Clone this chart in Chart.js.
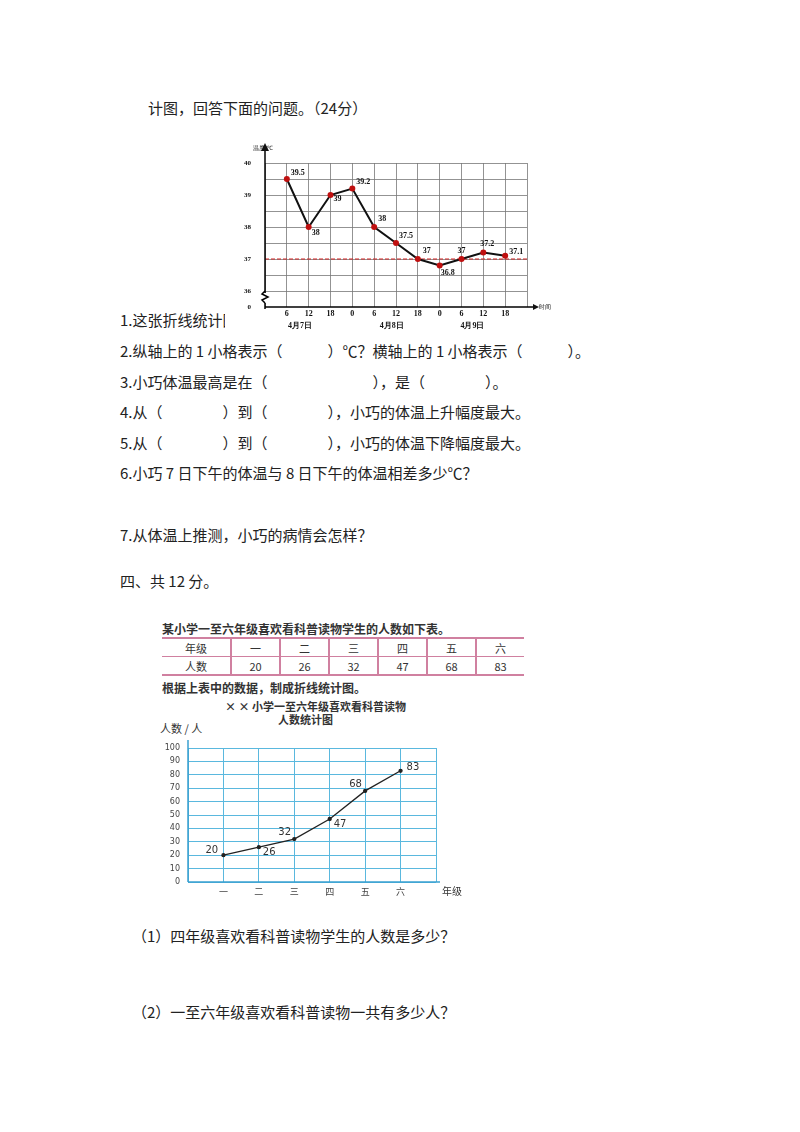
<!DOCTYPE html>
<html><head><meta charset="utf-8">
<script src="https://cdn.jsdelivr.net/npm/chart.js@4.4.0/dist/chart.umd.min.js"></script>
<style>
body{margin:0;width:800px;height:1132px;background:#fff;position:relative;font-family:"Noto Sans CJK SC","Noto Sans",sans-serif;color:#222;overflow:hidden}
.t{position:absolute;font-size:15px;white-space:nowrap;line-height:20px}
.s{position:absolute;font-size:12px;white-space:nowrap;font-weight:bold;color:#333;line-height:13px}
canvas{position:absolute}
table{position:absolute;left:162px;top:637px;border-collapse:collapse;font-size:11px;color:#333}
td{border:1px solid #d080a0;border-left:2px solid #d080a0;height:17px;text-align:center;width:47px;padding:0}
td:first-child{width:68px;border-left:none}
tr:first-child td{border-top:2px solid #d080a0}
tr:last-child td{border-bottom:2px solid #d080a0}
td:last-child{border-right:none}
</style></head><body>
<div class="t" style="left:148px;top:98px">计图，回答下面的问题。（24分）</div>
<div class="t" style="left:120px;top:310px">1.这张折线统计图</div>
<div class="t" style="left:120px;top:341px">2.纵轴上的 1 小格表示（　　　）℃？横轴上的 1 小格表示（　　　）。</div>
<div class="t" style="left:120px;top:372px">3.小巧体温最高是在（　　　　　　　），是（　　　　）。</div>
<div class="t" style="left:120px;top:402px">4.从（　　　　）到（　　　　），小巧的体温上升幅度最大。</div>
<div class="t" style="left:120px;top:433px">5.从（　　　　）到（　　　　），小巧的体温下降幅度最大。</div>
<div class="t" style="left:120px;top:463px">6.小巧 7 日下午的体温与 8 日下午的体温相差多少℃？</div>
<div class="t" style="left:120px;top:525px">7.从体温上推测，小巧的病情会怎样？</div>
<div class="t" style="left:120px;top:571px">四、共 12 分。</div>
<div class="s" style="left:162px;top:622px">某小学一至六年级喜欢看科普读物学生的人数如下表。</div>
<table>
<tr><td>年级</td><td>一</td><td>二</td><td>三</td><td>四</td><td>五</td><td>六</td></tr>
<tr><td>人数</td><td>20</td><td>26</td><td>32</td><td>47</td><td>68</td><td>83</td></tr>
</table>
<div class="s" style="left:162px;top:681px">根据上表中的数据，制成折线统计图。</div>
<div class="s" style="left:225px;top:700px;font-size:11px">× × 小学一至六年级喜欢看科普读物</div>
<div class="s" style="left:278px;top:713px;font-size:11px">人数统计图</div>
<div class="s" style="left:160px;top:722px;font-weight:normal;font-size:11px">人数 / 人</div>
<div class="t" style="left:132px;top:926px">（1）四年级喜欢看科普读物学生的人数是多少？</div>
<div class="t" style="left:132px;top:1002px">（2）一至六年级喜欢看科普读物一共有多少人？</div>
<canvas id="c1" width="340" height="200" style="left:225px;top:135px;width:340px;height:200px"></canvas>
<canvas id="c2" width="320" height="165" style="left:150px;top:735px;width:320px;height:165px"></canvas>
<script>
const hourLabels=["6","12","18","0","6","12","18","0","6","12","18"];
const temps=[39.5,38,39,39.2,38,37.5,37,36.8,37,37.2,37.1];
const tempLabels=["39.5","38","39","39.2","38","37.5","37","36.8","37","37.2","37.1"];
const yTicks1=["36","37","38","39","40"];
const dayLabels=["4月7日","4月8日","4月9日"];
const dayPos=[0.6,4.8,8.5];
const grades=["一","二","三","四","五","六"];
const counts=[20,26,32,47,68,83];

const serif='"Liberation Serif",serif';
const white={id:'w',beforeDraw(c){const x=c.ctx;x.save();x.fillStyle='#fff';x.fillRect(0,0,c.width,c.height);x.restore();}};
const lab1={id:'l1',afterDraw(c){const x=c.ctx,xs=c.scales.x,ys=c.scales.y;x.save();x.font='bold 8px '+serif;x.fillStyle='#111';
 const off=[[4,-4],[3,8],[3,6],[4,-5],[4,-6],[3,-5],[5,-6],[1,10],[-4,-6],[-3,-7],[4,-2]];
 temps.forEach((v,i)=>{x.textAlign='left';x.fillText(tempLabels[i],xs.getPixelForValue(i)+off[i][0],ys.getPixelForValue(v)+off[i][1]);});
 x.textAlign='center';dayLabels.forEach((d,i)=>x.fillText(d,xs.getPixelForValue(dayPos[i]),193));
 x.font='6px '+serif;x.textAlign='left';x.fillText('温度/℃',28,15);x.fillText('时间',c.chartArea.right+12,174);
 x.strokeStyle='#000';x.lineWidth=1.5;x.beginPath();x.moveTo(40,174);x.lineTo(40,10);x.stroke();
 x.beginPath();x.moveTo(36,16);x.lineTo(40,8);x.lineTo(44,16);x.fill();
 x.beginPath();x.moveTo(40,172);x.lineTo(c.chartArea.right+10,172);x.stroke();
 x.beginPath();x.moveTo(c.chartArea.right+6,169);x.lineTo(c.chartArea.right+12,172);x.lineTo(c.chartArea.right+6,175);x.fill();
 x.fillStyle='#fff';x.fillRect(37,158,7,10);x.beginPath();x.moveTo(40,156);x.lineTo(37,159);x.lineTo(43,162);x.lineTo(37,165);x.lineTo(40,168);x.stroke();
 x.restore();}};
new Chart(document.getElementById('c1'),{type:'scatter',
 data:{datasets:[
  {data:temps.map((v,i)=>({x:i,y:v})),showLine:true,borderColor:'#111',borderWidth:2,pointBackgroundColor:'#c01010',pointBorderColor:'#c01010',pointRadius:2,tension:0},
  {data:[{x:-1,y:37},{x:11,y:37}],showLine:true,borderColor:'#d02020',borderWidth:1,borderDash:[4,2],pointRadius:0}]},
 options:{responsive:false,animation:false,layout:{padding:{top:28,right:38,left:0,bottom:0}},plugins:{legend:{display:false},tooltip:{enabled:false}},
  scales:{x:{type:'linear',min:-1,max:11,afterBuildTicks(a){a.ticks=[];for(let i=-1;i<=11;i++)a.ticks.push({value:i});},afterFit(a){a.height=28;},
    ticks:{autoSkip:false,maxRotation:0,padding:2,font:{family:serif,size:8,weight:'bold'},color:'#111',callback:v=>(v>=0&&v<=10)?hourLabels[v]:''},
    grid:{color:'#777',lineWidth:0.8,drawTicks:false},border:{display:false}},
   y:{min:35.5,max:40,afterBuildTicks(a){a.ticks=[];for(let v=35.5;v<=40.01;v+=0.5)a.ticks.push({value:v});},afterFit(a){a.width=40;},
    ticks:{autoSkip:false,padding:14,font:{family:serif,size:7,weight:'bold'},color:'#111',callback:v=>v===35.5?'0':(Number.isInteger(v)?yTicks1[v-36]:'')},
    grid:{color:c=>c.tick.value===35.5?'rgba(0,0,0,0)':'#777',lineWidth:0.8,drawTicks:false},border:{display:false}}}},
 plugins:[white,lab1]});

const lab2={id:'l2',afterDraw(c){const x=c.ctx,xs=c.scales.x,ys=c.scales.y;x.save();x.font='10px "DejaVu Sans",sans-serif';x.fillStyle='#333';
 const off=[[-18,-2],[4,8],[-16,-4],[4,8],[-16,-4],[6,-1]];
 counts.forEach((v,i)=>{x.fillText(String(v),xs.getPixelForValue(i)+off[i][0],ys.getPixelForValue(v)+off[i][1]);});
 x.font='10px "Noto Sans CJK SC"';x.fillText('年级',c.chartArea.right+6,c.chartArea.bottom+13);
 x.strokeStyle='#3aa0d0';x.lineWidth=1.5;x.beginPath();x.moveTo(38,c.chartArea.bottom);x.lineTo(38,5);x.stroke();
 x.beginPath();x.moveTo(38,c.chartArea.bottom);x.lineTo(c.chartArea.right+4,c.chartArea.bottom);x.stroke();
 x.restore();}};
new Chart(document.getElementById('c2'),{type:'scatter',
 data:{datasets:[{data:counts.map((v,i)=>({x:i,y:v})),showLine:true,borderColor:'#222',borderWidth:1.3,pointRadius:1.5,pointBackgroundColor:'#222',tension:0}]},
 options:{responsive:false,animation:false,layout:{padding:{top:13,right:34,left:0,bottom:0}},plugins:{legend:{display:false},tooltip:{enabled:false}},
  scales:{x:{type:'linear',min:-1,max:6,afterBuildTicks(a){a.ticks=[];for(let i=-1;i<=6;i++)a.ticks.push({value:i});},afterFit(a){a.height=18;},
    ticks:{autoSkip:false,maxRotation:0,padding:4,font:{family:'"Noto Sans CJK SC"',size:9},color:'#444',callback:v=>(v>=0&&v<=5)?grades[v]:''},
    grid:{color:'#5ab8de',lineWidth:1,drawTicks:false},border:{display:false}},
   y:{min:0,max:100,afterBuildTicks(a){a.ticks=[];for(let v=0;v<=100;v+=10)a.ticks.push({value:v});},afterFit(a){a.width=38;},
    ticks:{autoSkip:false,padding:8,font:{family:'"DejaVu Sans"',size:8},color:'#444'},
    grid:{color:'#5ab8de',lineWidth:1,drawTicks:false},border:{display:false}}}},
 plugins:[lab2]});
</script>
</body></html>
